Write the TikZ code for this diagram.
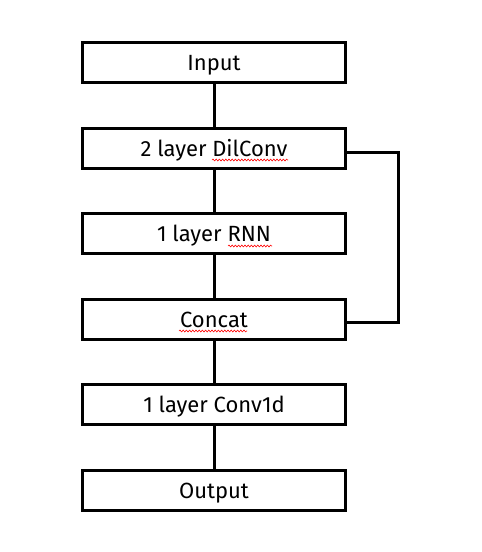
\documentclass[tikz,border=0pt]{standalone}
\usepackage{fontspec}
\setmainfont{Fira Sans}
\usetikzlibrary{decorations.pathmorphing}
\begin{document}
\begin{tikzpicture}[x=1pt,y=-1pt,
  blk/.style={draw=black,line width=3pt,minimum width=263pt,minimum height=40pt,inner sep=0pt,text height=16pt,text depth=0pt,font=\fontsize{22}{24}\selectfont,fill=white},
  conn/.style={line width=3pt},
  squig/.style={red,line width=0.6pt,decorate,decoration={snake,amplitude=0.9pt,segment length=3.2pt}}]
\useasboundingbox (0,0) rectangle (482,552);
\node[blk] (in) at (214,62) {Input};
\node[blk] (dil) at (214,148) {2 layer DilConv};
\node[blk] (rnn) at (214,233) {1 layer RNN};
\node[blk] (cat) at (214,319) {Concat};
\node[blk] (c1d) at (214,404) {1 layer Conv1d};
\node[blk] (out) at (214,490) {Output};
\draw[conn] (in) -- (dil);
\draw[conn] (dil) -- (rnn);
\draw[conn] (rnn) -- (cat);
\draw[conn] (cat) -- (c1d);
\draw[conn] (c1d) -- (out);
\coordinate (k1) at (398,152);
\coordinate (k2) at (398,322);
\draw[conn] (dil.east |- k1) -- (k1) -- (k2) -- (cat.east |- k2);
% spell-check squiggles
\coordinate (s1a) at (212,160); \coordinate (s1b) at (288,160);
\coordinate (s2a) at (228,246); \coordinate (s2b) at (272,246);
\coordinate (s3a) at (179,331); \coordinate (s3b) at (247,331);
\draw[squig] (s1a) -- (s1b);
\draw[squig] (s2a) -- (s2b);
\draw[squig] (s3a) -- (s3b);
\end{tikzpicture}
\end{document}
